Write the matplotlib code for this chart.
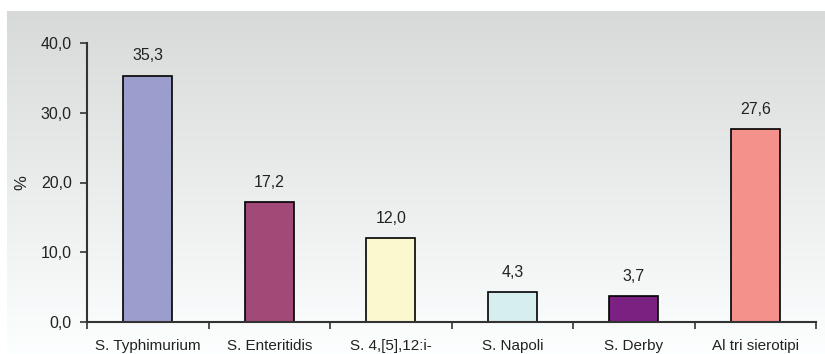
import numpy as np
import matplotlib
matplotlib.use("Agg")
import matplotlib.pyplot as plt

plt.rcParams['font.family'] = ['Liberation Sans', 'DejaVu Sans']

categories = ['S. Typhimurium', 'S. Enteritidis', 'S. 4,[5],12:i-',
              'S. Napoli', 'S. Derby', 'Al tri sierotipi']
values = [35.3, 17.2, 12.0, 4.3, 3.7, 27.6]
colors = ['#9b9dcc', '#a14a78', '#fbf8d0', '#d7eeee', '#7b2182', '#f4918a']
yticks = [0, 10, 20, 30, 40]

fig = plt.figure(figsize=(8.25, 3.54), dpi=100)

# grey-to-white background panel
bg = fig.add_axes([7 / 825, 0, 1 - 7 / 825, 1 - 11 / 354], zorder=0)
grad = np.linspace(0.855, 1.0, 256).reshape(-1, 1)
bg.imshow(np.dstack([grad * 0.99, grad, grad]), aspect='auto',
          extent=[0, 1, 0, 1], origin='upper')
bg.set_axis_off()

ax = fig.add_axes([87 / 825, 1 - 322 / 354, (816 - 87) / 825, (322 - 43) / 354],
                  zorder=1)
ax.patch.set_alpha(0)

x = np.arange(len(categories))
bars = ax.bar(x, values, width=0.4, color=colors, edgecolor='black', linewidth=1.2)
for b, v in zip(bars, values):
    ax.annotate(f'{v:.1f}'.replace('.', ','), (b.get_x() + b.get_width() / 2, v),
                xytext=(0, 9), textcoords='offset points', ha='center', va='bottom',
                fontsize=11.5, color='#222222')

ax.set_xlim(-0.5, len(categories) - 0.5)
ax.set_ylim(0, 40)
ax.set_yticks(yticks)
ax.set_yticklabels([f'{t:.1f}'.replace('.', ',') for t in yticks])
ax.set_xticks(x)
ax.set_xticklabels(categories)
ax.set_xticks(np.arange(len(categories) + 1) - 0.5, minor=True)
ax.tick_params(axis='x', which='major', length=0, pad=12, labelsize=11)
ax.tick_params(axis='x', which='minor', length=5, width=1.2, direction='out', color='#333333')
ax.tick_params(axis='y', length=5, width=1.2, color='#333333', labelsize=11.5, pad=6)
for lbl in ax.get_xticklabels() + ax.get_yticklabels():
    lbl.set_color('#222222')

for s in ['top', 'right']:
    ax.spines[s].set_visible(False)
for s in ['left', 'bottom']:
    ax.spines[s].set_color('#333333')
    ax.spines[s].set_linewidth(1.5)

ax.set_ylabel('%', fontsize=12, labelpad=8, color='#222222')

fig.savefig('out.png', dpi=100)
